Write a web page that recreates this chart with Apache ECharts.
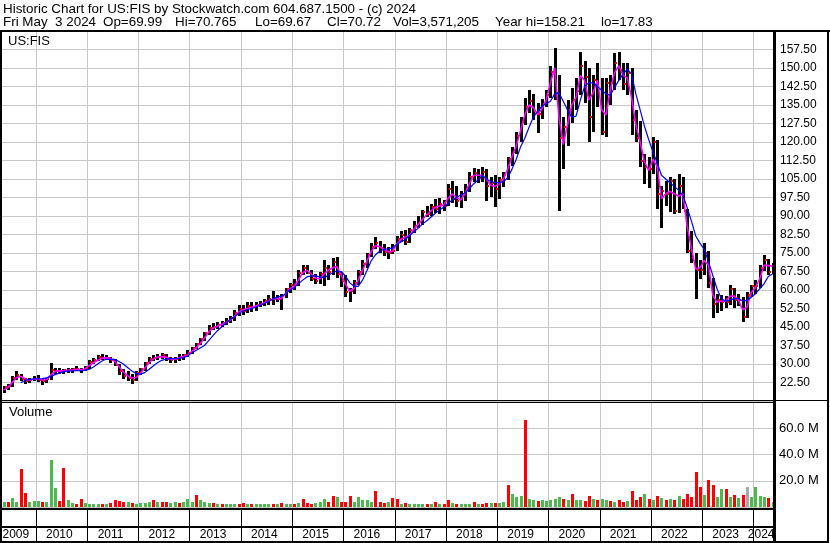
<!DOCTYPE html>
<html><head><meta charset="utf-8">
<script src="https://cdn.jsdelivr.net/npm/echarts@6/dist/echarts.min.js"></script>
<style>html,body{margin:0;padding:0;background:#fff}#c{width:830px;height:543px}</style>
</head><body><div id="c"></div>
<script>
// ---- DATA (monthly) ----
const months = [
 '2009-05','2009-06','2009-07','2009-08','2009-09','2009-10','2009-11','2009-12',
 '2010-01','2010-02','2010-03','2010-04','2010-05','2010-06','2010-07','2010-08','2010-09','2010-10','2010-11','2010-12',
 '2011-01','2011-02','2011-03','2011-04','2011-05','2011-06','2011-07','2011-08','2011-09','2011-10','2011-11','2011-12',
 '2012-01','2012-02','2012-03','2012-04','2012-05','2012-06','2012-07','2012-08','2012-09','2012-10','2012-11','2012-12',
 '2013-01','2013-02','2013-03','2013-04','2013-05','2013-06','2013-07','2013-08','2013-09','2013-10','2013-11','2013-12',
 '2014-01','2014-02','2014-03','2014-04','2014-05','2014-06','2014-07','2014-08','2014-09','2014-10','2014-11','2014-12',
 '2015-01','2015-02','2015-03','2015-04','2015-05','2015-06','2015-07','2015-08','2015-09','2015-10','2015-11','2015-12',
 '2016-01','2016-02','2016-03','2016-04','2016-05','2016-06','2016-07','2016-08','2016-09','2016-10','2016-11','2016-12',
 '2017-01','2017-02','2017-03','2017-04','2017-05','2017-06','2017-07','2017-08','2017-09','2017-10','2017-11','2017-12',
 '2018-01','2018-02','2018-03','2018-04','2018-05','2018-06','2018-07','2018-08','2018-09','2018-10','2018-11','2018-12',
 '2019-01','2019-02','2019-03','2019-04','2019-05','2019-06','2019-07','2019-08','2019-09','2019-10','2019-11','2019-12',
 '2020-01','2020-02','2020-03','2020-04','2020-05','2020-06','2020-07','2020-08','2020-09','2020-10','2020-11','2020-12',
 '2021-01','2021-02','2021-03','2021-04','2021-05','2021-06','2021-07','2021-08','2021-09','2021-10','2021-11','2021-12',
 '2022-01','2022-02','2022-03','2022-04','2022-05','2022-06','2022-07','2022-08','2022-09','2022-10','2022-11','2022-12',
 '2023-01','2023-02','2023-03','2023-04','2023-05','2023-06','2023-07','2023-08','2023-09','2023-10','2023-11','2023-12',
 '2024-01','2024-02','2024-03','2024-04','2024-05'
];
const high = [
 21,22,25,27,26,24.5,24.5,25,
 25.5,24,24.5,30.5,28.5,28.5,28,28.5,28.5,29,28.5,29,
 31.5,32.5,33.5,34,33.5,33,32,30,28,27,26,27,
 28.5,31,33,33.5,34,34.5,34,33,33,34,34,35.5,
 37,38.5,40.5,43,46,46.5,47,47.5,48.5,49.5,52,54,
 54,55,55,55,55.5,56.5,58,59.5,58,58.5,61,63,
 64.5,68,70,70,68,66.5,67.5,72,70,73,73.5,67.5,
 66,61,64,68,72,75,79,81.5,80,78.5,77.5,78.5,
 82,84,84.5,85,88,90,92.5,94,95,97,97.5,96.5,
 103,104,102,100,103,108,109.5,109,110,109,106,106.5,
 106,108,114,118,124,130,138,141,139.5,136,137.5,141,
 151,158.2,147,130,137,142,146,156.5,153,150,147,152,
 146,146,147,156,156.5,152,152,150,133,128.5,115,114,
 122,121,102,104,106,105,107,106,93,84,75,72,
 79,76,65,58.5,58,57.5,62,61,58.5,57,59,62,
 64,70,74,72.5,71
];
const low = [
 18,19.5,20.5,23.5,23,22,22.5,23,
 22.5,21.5,22.5,23.5,26,26,26,26.5,26.5,27,26.5,27,
 28,30,31,31.5,31.5,30.5,29,25.5,24,23,22,23,
 25.5,27.5,30,31,31.5,32,31,30.5,30.5,31,31.5,32.5,
 34,36,37.5,39.5,42,43.5,44,45,45.5,46.5,47.5,49.5,
 50,50.5,51,51.5,53,53.5,54,54,55,52,57,59,
 60,61.5,66,66.5,63.5,62.5,62.5,61.5,64,66,65,61.5,
 57,55.5,58.5,62,66,69,73.5,76.5,75,73.5,72.5,74.5,
 76,79.5,78.5,79,83,85,86.5,89.5,90,91.5,91,92,
 94,95,93.5,93,96,100,104,103.5,104,96,98,93.5,
 97,102,104.5,110.5,115,120,127,131.5,129,124,129.5,134,
 138,137,91.7,109,118.5,128,133,139,136,120,124,134,
 123,122,135,141,145,141,139,123,120,110,103,101.5,
 107,93,85,94,92,91,91,93,75,71,56.5,64.5,
 66,61,48.6,51,51.5,52.5,54,53,53.5,46.8,48.5,57,
 58.5,60.5,67.5,66,66.5
];
const close = [
 20.5,21,24.5,25.5,24,23,23.5,24,
 23.5,23,24,27.5,27,27,27.5,27.5,27.8,28,27.5,28.5,
 31,31.5,32.8,32.5,32.5,31.5,29.5,27,25,24.5,23.5,26.5,
 28,30.5,32,32.5,33,33.5,32,31.5,32,33,33.5,34.5,
 36.5,38,40,42.5,44.5,45,46,46.5,47.5,48.5,50.5,52.5,
 51.5,53.5,53,54,54.5,55.5,56.5,56.5,56.5,57.5,60.5,62,
 62,67,69,67,64.5,63.5,66.5,69,67.5,71.5,66.5,63.5,
 59,59.5,63,67.5,70.5,74,77.5,79,77,75.5,75,76,
 80.5,82.5,79.5,84.5,86,87.5,91.5,91,93.5,93,95,94,
 101,97,96,98,101,106,107.5,105.5,108,102,103.5,101,
 104.5,106.5,113,116,122.5,128,134,136.5,132.5,131.5,135.5,139,
 148.5,140,121.5,126,133,137,140.5,151,146.5,130,145,141.5,
 124,144,144,152,149,143.5,148,129,121.5,112.5,110,109,
 120,99,100,99,104,92,102,92,76,73,68,68,
 75,63,54.5,56,55,55,60.5,56,56,49,58,61.5,
 61.5,69,72,67.5,70.72
];
const maFast = [
 19.5,20.5,22.5,24.5,25,24,23.5,23.8,
 24,23.5,23.6,25.5,27,27.2,27.2,27.4,27.5,27.8,27.8,28,
 29.3,30.5,31.5,32.3,32.5,32.3,31,29,26.8,25.3,24.3,24.5,
 26.3,28.3,30.5,32,32.8,33,32.8,32,31.8,32.5,33,33.5,
 35,36.5,38.3,40.5,43,44.5,45.3,46,46.7,47.7,49.3,51,
 52,52.5,53,53.5,54,54.8,55.5,56.3,56.5,56.5,58.5,60.5,
 61.5,64,67,68,66.5,64.8,64.5,66.5,68,69,69.5,66,
 62.5,59.5,60.5,64,68,71.5,75.5,78,77.5,76.5,75.5,75.7,
 78.5,80.5,81.5,82,84.5,86.5,88.5,90.5,92,93.5,94,94.5,
 97,99,97.5,96.5,99,103,106.5,106.5,106.5,105,102.5,102,
 103,105,109,114,118.5,124.5,131,135,134,131,133.5,137,
 144,150,130,119,127,135,138,147,145,137,140,145,
 133,131,141,148,151,147,146,138,127,120,112,108.5,
 113,110,97,99,100,99,98,99,86,77,68.5,69,
 72,70,58,55,55.5,55.5,57.5,57.5,56,52,53,59,
 61,64.5,70,70,69.5
];
const maSlow = [
 null,null,null,null,22.4,23.3,23.8,24,
 24,24.1,24.4,25,25.7,26.3,26.8,27.2,27.2,27.3,27.3,27.4,
 27.8,28.8,30,31.2,31.9,32,31.9,31,30,28.6,27.2,26.2,
 25.9,26.5,27.8,29.2,30.5,31.5,32,32.2,32.2,32.3,32.6,33.2,
 34.5,35.5,36.5,37.5,39.5,41.5,43.4,45,46.5,48,49,50.5,
 51.5,52,52.5,53,53.8,54.5,55.3,56.3,57,57.5,58.5,60,
 61,62.5,64,65.3,65.7,65.7,65.3,65,66,67,67.7,67.5,
 65.7,63,61.5,61.5,64,67.7,71.7,74.2,75.7,76.4,76.8,77,
 78.5,79.5,80.5,82,83.5,85,86.7,88,89.5,91,92.5,93.5,
 95,96.5,97.5,98.5,99.3,101,103,104.5,106.5,105,104,103.5,
 103.5,104,105.5,109,113,118,121.5,126,130,132.5,134.5,135.5,
 136.5,139.5,140,136.5,133,130,130.5,137,142.5,144,144,142.5,
 141,139.5,139,142,145,147.5,149.5,147.5,139.5,133,126.5,121,
 116,111.5,106.5,105,103.5,102,100.5,98.5,93.5,88,82,79,
 76.5,71.5,66,60.5,56.5,55.5,56,56.5,56.5,55.5,55.8,57,
 58.5,60.5,62.5,65.5,66.5
];
// volume in millions of shares
const volume = [
 4,3.5,7,4,28.7,10.8,4,4.5,
 4.5,4,3.5,36,14.6,4.5,30,5.6,3,2.5,6.4,3,
 2.5,2.5,2,2.5,2.5,3,5,4.5,3.5,3.5,3,2.5,
 3,3,4,5,3.5,4,3.5,3,4,3,4,6.4,
 4,9.5,5,4,3,3,2.5,2.5,2.5,2.5,2.5,2.5,
 3,2.5,2,2.5,2,2,2.5,2,2,3,2.5,2.5,
 2.5,3,6.4,3,2.5,3,4,6.4,4,8.7,7.7,4,
 4,8.2,4,7.7,5,5,4,12,3.5,3,3.5,7,
 6.4,2.5,3,2.5,2.5,2.5,2,2.5,2.5,3.8,2.5,2,
 5,3,2.5,2.5,2.5,2,3.6,2.5,2,3,3,3,
 3,4,16.4,10,7.7,8.7,66,6.4,5,4.5,5,4.5,
 5,6,7.4,6,5.5,10,5,5.5,4.5,8.7,6,5,
 6.4,5.5,4.5,4,5,4,4.5,12.5,5,7.7,10,6,
 5,8.7,7,5.5,6,5.5,8.2,6,10,8,26.6,15,
 9,20.5,16.4,8,13.8,13.8,8,9,7,9,15,8,
 15.6,8.5,8,7,4
];
const volColor = [
 'g','r','g','g','r','r','g','g',
 'g','r','g','g','g','r','r','g','g','r','r','g',
 'g','g','g','r','g','r','r','r','r','g','r','g',
 'g','g','g','r','g','r','r','g','g','r','g','g',
 'g','r','g','g','g','r','g','r','g','g','g','r',
 'r','g','r','g','g','g','g','r','g','r','g','g',
 'r','g','r','r','r','g','g','g','r','r','g','r',
 'r','r','g','g','g','g','g','r','r','r','g','r',
 'r','g','r','g','g','g','g','r','g','r','g','r',
 'r','g','r','g','g','g','r','g','r','r','g','r',
 'g','g','r','g','g','g','r','g','g','r','g','g',
 'g','g','g','r','g','r','g','g','r','r','g','r',
 'g','g','r','g','r','r','g','r','r','r','g','r',
 'g','r','g','r','g','r','g','r','r','r','r','r',
 'g','r','r','g','g','r','g','r','g','r','n','g',
 'g','g','g','r','g'
];
const years = ['2009','2010','2011','2012','2013','2014','2015','2016','2017','2018','2019','2020','2021','2022','2023','2024'];
const priceTicks = [22.5,30,37.5,45,52.5,60,67.5,75,82.5,90,97.5,105,112.5,120,127.5,135,142.5,150,157.5];
const volumeTicks = [20,40,60];
const headerLine1 = 'Historic Chart for US:FIS by Stockwatch.com 604.687.1500 - (c) 2024';
const headerFields = ['Fri May  3 2024', 'Op=69.99', 'Hi=70.765', 'Lo=69.67', 'Cl=70.72', 'Vol=3,571,205', 'Year hi=158.21', 'lo=17.83'];

// ---- CHART ----
const FONT = '"Liberation Sans", Arial, sans-serif';
const xMin = 2009.3035, xMax = 2024.384;
const PLOT_W = 773;
const headerFieldX = [3, 103, 175, 255, 327, 393, 495, 601];
function monthPos(s){ const p = s.split('-').map(Number); return p[0] + (p[1]-0.5)/12; }
const priceData = months.map((m,i)=>[monthPos(m), high[i], low[i], close[i]]);
const fastData = months.map((m,i)=>[monthPos(m), maFast[i]]);
const slowData = months.map((m,i)=>[monthPos(m), maSlow[i]]);
const volData = months.map((m,i)=>[monthPos(m), volume[i]]);
const colMap = {r:'#ff0000', g:'#4db84d', n:'#a8a8a8'};
const yearStarts = years.map(Number).filter(y => y > xMin);

function renderGridV(params, api){
  const cs = params.coordSys;
  const p = api.coord([api.value(0), api.value(1)]);
  const x = Math.round(p[0]) + 0.5;
  return {type:'line', shape:{x1:x, y1:cs.y, x2:x, y2:cs.y+cs.height}, style:{stroke:'#c8c8c8', lineWidth:1}};
}
function renderBar(params, api){
  const x = api.value(0);
  const pH = api.coord([x, api.value(1)]);
  const pL = api.coord([x, api.value(2)]);
  const pC = api.coord([x, api.value(3)]);
  const cx = Math.round(pH[0]);
  return {type:'group', children:[
    {type:'rect', shape:{x:cx-1, y:Math.round(pH[1]), width:3, height:Math.max(1, Math.round(pL[1]-pH[1]))}, style:{fill:'#000'}},
    {type:'rect', shape:{x:cx+1, y:Math.round(pC[1])-1, width:2, height:2}, style:{fill:'#ff0000'}}
  ]};
}
function renderVol(params, api){
  const x = api.value(0);
  const pT = api.coord([x, api.value(1)]);
  const pB = api.coord([x, 0]);
  const cx = Math.round(pT[0]);
  return {type:'rect', shape:{x:cx-1, y:Math.round(pT[1]), width:3, height:Math.round(pB[1]-pT[1])},
    style:{fill: colMap[volColor[params.dataIndex]]}};
}
function renderBand(params, api){
  const cs = params.coordSys;
  const i = params.dataIndex;
  const y0 = Number(years[i]);
  const s = Math.max(y0, xMin), e = Math.min(y0+1, xMax);
  const ps = api.coord([s, 0.5]), pe = api.coord([e, 0.5]);
  const children = [];
  if (y0 > xMin) {
    const x = Math.round(ps[0]) + 0.5;
    children.push({type:'line', shape:{x1:x, y1:cs.y, x2:x, y2:cs.y+cs.height}, style:{stroke:'#000', lineWidth:1}});
  }
  children.push({type:'text', style:{text:years[i], x:(ps[0]+pe[0])/2 - 2, y:cs.y + 26, textAlign:'center', textVerticalAlign:'middle', font:'12px ' + FONT, fill:'#000'}});
  return {type:'group', children};
}

const headerGraphics = [{type:'text', left:3, top:3, z:10, style:{text:headerLine1, font:'13.4px ' + FONT, fill:'#000'}}]
  .concat(headerFields.map((t,i)=>({type:'text', left:headerFieldX[i], top:16, z:10, style:{text:t, font:'13.4px ' + FONT, fill:'#000'}})));

const chart = echarts.init(document.getElementById('c'), null, {renderer:'canvas'});
const hiddenX = (gi)=>({type:'value', gridIndex:gi, min:xMin, max:xMax, show:false});
chart.setOption({
  animation:false,
  backgroundColor:'#fff',
  grid:[
    {left:0, top:31, width:PLOT_W, height:370},
    {left:0, top:402, width:PLOT_W, height:105},
    {left:0, top:509, width:PLOT_W, height:33}
  ],
  xAxis:[hiddenX(0), hiddenX(1), hiddenX(2)],
  yAxis:[
    {type:'value', gridIndex:0, position:'right', min:15, max:165, interval:7.5,
     axisLine:{show:false}, axisTick:{show:false},
     splitLine:{show:true, lineStyle:{color:'#c8c8c8', width:1}},
     axisLabel:{margin:7, color:'#000', fontSize:12, fontFamily:FONT,
       formatter:v => priceTicks.some(t => Math.abs(t-v)<1e-6) ? v.toFixed(2) : ''}},
    {type:'value', gridIndex:1, position:'right', min:0, max:80, interval:20,
     axisLine:{show:false}, axisTick:{show:false},
     splitLine:{show:true, lineStyle:{color:'#c8c8c8', width:1}},
     axisLabel:{margin:6, color:'#000', fontSize:13, fontFamily:FONT,
       formatter:v => volumeTicks.indexOf(v) >= 0 ? v.toFixed(1) + ' M' : ''}},
    {type:'value', gridIndex:2, min:0, max:1, show:false}
  ],
  series:[
    {type:'custom', xAxisIndex:0, yAxisIndex:0, z:1, silent:true, renderItem:renderGridV, data:yearStarts.map(y=>[y,90])},
    {type:'custom', xAxisIndex:1, yAxisIndex:1, z:1, silent:true, renderItem:renderGridV, data:yearStarts.map(y=>[y,40])},
    {type:'custom', xAxisIndex:0, yAxisIndex:0, z:2, clip:true, renderItem:renderBar, data:priceData},
    {type:'line', xAxisIndex:0, yAxisIndex:0, z:3, data:fastData, showSymbol:false, symbol:'none',
     lineStyle:{color:'#ff00ff', width:1.6}, clip:true},
    {type:'line', xAxisIndex:0, yAxisIndex:0, z:4, data:slowData, showSymbol:false, symbol:'none',
     lineStyle:{color:'#0000ff', width:1.2}, clip:true},
    {type:'custom', xAxisIndex:1, yAxisIndex:1, z:2, clip:true, renderItem:renderVol, data:volData},
    {type:'custom', xAxisIndex:2, yAxisIndex:2, z:2, renderItem:renderBand, data:years.map((y,i)=>[Number(y),0.5])}
  ],
  graphic: headerGraphics.concat([
    {type:'text', left:8, top:35, z:10, style:{text:'US:FIS', font:'13px ' + FONT, fill:'#000'}},
    {type:'text', left:9, top:406, z:10, style:{text:'Volume', font:'13px ' + FONT, fill:'#000'}},
    // frame
    {type:'rect', z:20, shape:{x:0, y:30, width:830, height:2}, style:{fill:'#000'}},
    {type:'rect', z:20, shape:{x:0, y:30, width:2, height:513}, style:{fill:'#000'}},
    {type:'rect', z:20, shape:{x:827, y:30, width:2, height:513}, style:{fill:'#000'}},
    {type:'rect', z:20, shape:{x:773, y:30, width:3, height:513}, style:{fill:'#000'}},
    {type:'rect', z:20, shape:{x:0, y:400, width:829, height:1}, style:{fill:'#000'}},
    {type:'rect', z:20, shape:{x:0, y:402, width:775, height:1}, style:{fill:'#000'}},
    {type:'rect', z:20, shape:{x:0, y:508, width:775, height:2}, style:{fill:'#000'}},
    {type:'rect', z:20, shape:{x:0, y:526, width:775, height:2}, style:{fill:'#000'}},
    {type:'rect', z:20, shape:{x:0, y:541, width:829, height:2}, style:{fill:'#000'}}
  ])
});
</script></body></html>
